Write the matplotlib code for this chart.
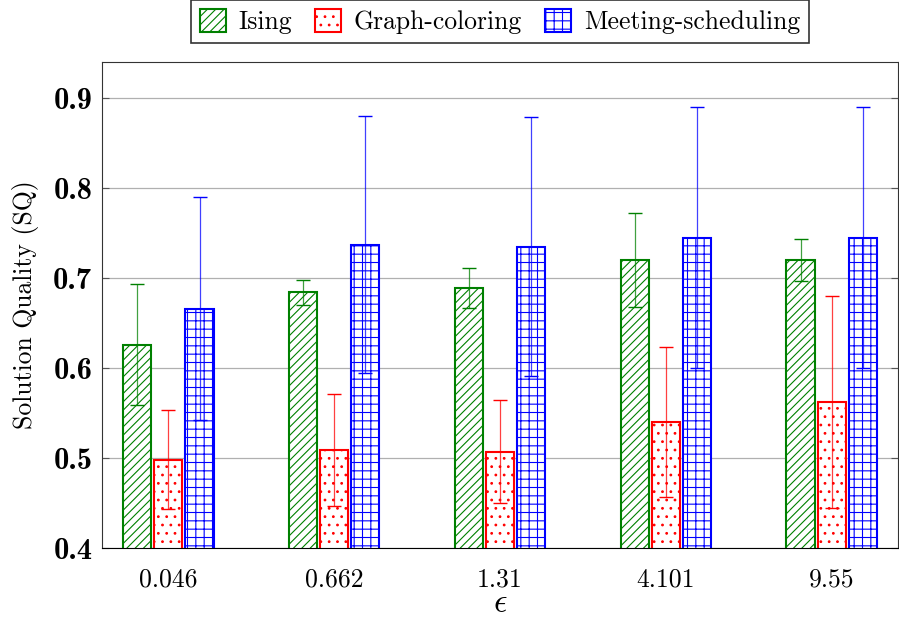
import numpy as np
import matplotlib
matplotlib.use("Agg")
import matplotlib.pyplot as plt

plt.rcParams.update({
    "font.family": ["cmr10", "DejaVu Serif"],
    "mathtext.fontset": "cm",
    "axes.formatter.use_mathtext": True,
    "font.size": 18.5,
    "hatch.linewidth": 0.8,
})

# data
epsilons = ["0.046", "0.662", "1.31", "4.101", "9.55"]
series = ["Ising", "Graph-coloring", "Meeting-scheduling"]

ising_mean = [0.626, 0.684, 0.689, 0.720, 0.720]
ising_err = [0.067, 0.014, 0.022, 0.052, 0.023]

graph_mean = [0.498, 0.509, 0.507, 0.540, 0.562]
graph_err = [0.055, 0.062, 0.057, 0.083, 0.118]

meeting_mean = [0.666, 0.737, 0.735, 0.745, 0.745]
meeting_err = [0.124, 0.143, 0.144, 0.145, 0.145]

colors = ["green", "red", "blue"]
hatches = ["////", "..", "++"]

means = [ising_mean, graph_mean, meeting_mean]
errs = [ising_err, graph_err, meeting_err]

fig = plt.figure(figsize=(8.99, 6.2), dpi=100)
ax = fig.add_axes([0.1135, 0.116, 0.8855, 0.784])

x = np.arange(len(epsilons))
width = 0.17
step = 0.188

for i, name in enumerate(series):
    pos = x + (i - 1) * step
    ax.bar(pos, means[i], width=width, bottom=0, facecolor="white",
           edgecolor=colors[i], hatch=hatches[i], linewidth=1.5,
           label=name, zorder=2)
    _, caps, lines = ax.errorbar(pos, means[i], yerr=errs[i], fmt="none",
                                 ecolor=colors[i], elinewidth=0.9,
                                 capsize=5, capthick=1.0, zorder=3)
    for c in caps:
        c.set_color("black")
    for l in lines:
        l.set_alpha(0.75)

ax.set_xlim(-0.4, 4.4)
ax.set_ylim(0.4, 0.94)
ax.set_xticks(x)
ax.set_xticklabels(epsilons)
ax.tick_params(axis="x", length=0, pad=14)

yt = [0.4, 0.5, 0.6, 0.7, 0.8, 0.9]
ax.set_yticks(yt)
ax.set_yticklabels([f"{v:.1f}" for v in yt], fontfamily="cmb10", fontsize=22)
ax.tick_params(axis="y", direction="in", right=True, length=5, color="#555555", pad=7)

ax.grid(True, axis="y", color="#b0b0b0", linewidth=0.9, zorder=0)
ax.set_axisbelow(True)

for s in ax.spines.values():
    s.set_color("#333333")
ax.spines["bottom"].set_color("black")

ax.set_xlabel(r"$\epsilon$", labelpad=-2, fontsize=24)
ax.set_ylabel("Solution Quality (SQ)", labelpad=10)

leg = ax.legend(loc="lower center", bbox_to_anchor=(0.5, 1.012), ncol=3,
                frameon=True, fancybox=False, edgecolor="black",
                handlelength=1.0, handleheight=1.0, handletextpad=0.5,
                columnspacing=0.9, borderpad=0.35, fontsize=18.5)
leg.get_frame().set_linewidth(1.2)

fig.savefig("out.png", dpi=100)
